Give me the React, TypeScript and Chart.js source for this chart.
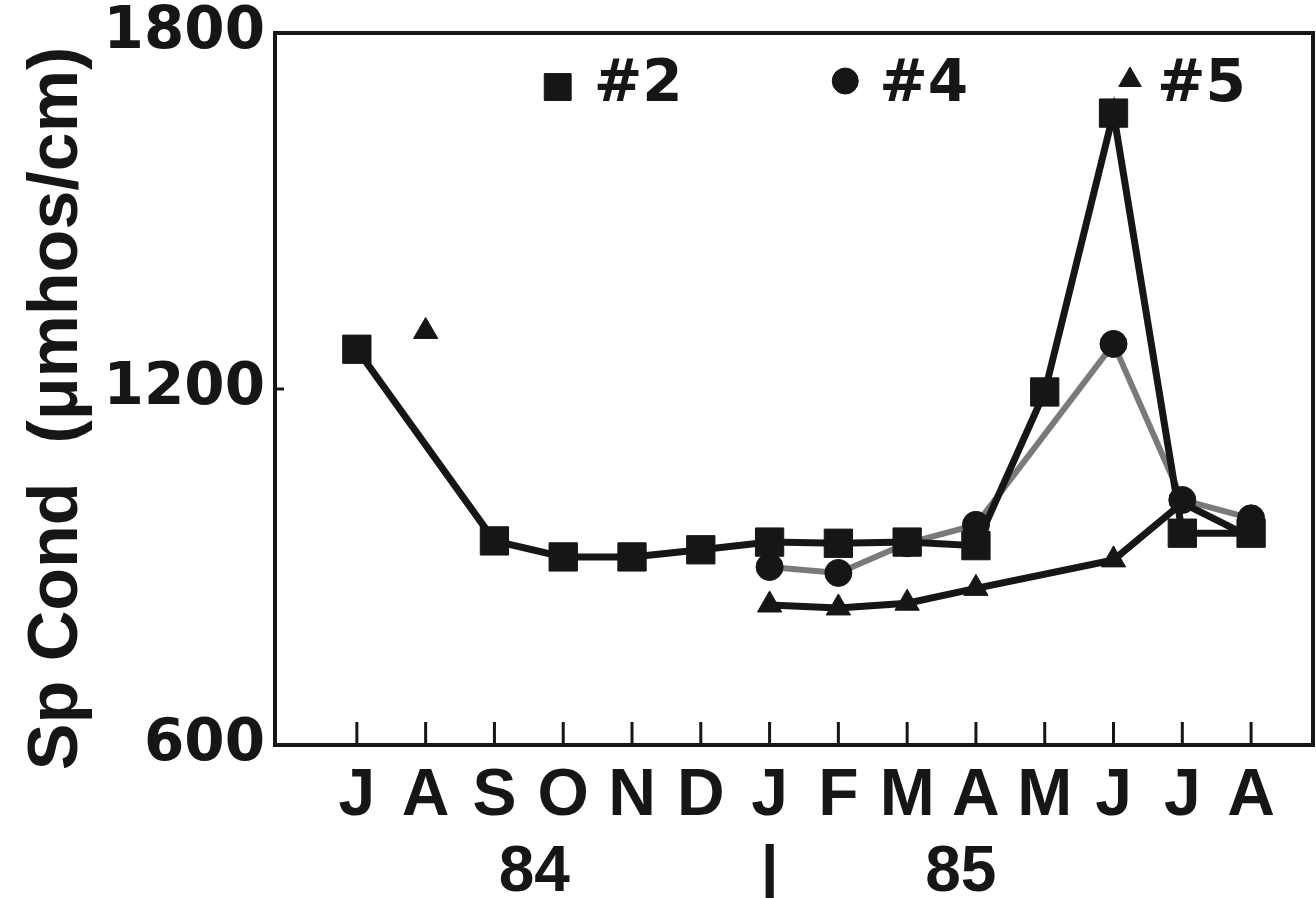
import React, { useEffect, useRef } from 'react';
import { Chart, registerables } from 'chart.js';
import { drawPoint } from 'chart.js/helpers';

Chart.register(...registerables);

// ---- data ----
const months = ['J', 'A', 'S', 'O', 'N', 'D', 'J', 'F', 'M', 'A', 'M', 'J', 'J', 'A'];
const yearLabels = ['84', '|', '85'];
const yTickValues = [600, 1200, 1800];
const seriesNames = ['#2', '#4', '#5'];
const site2 = [1267, null, 944, 917, 917, 929, 942, 940, 942, 936, 1195, 1665, 957, 957];
const site4 = [null, null, null, null, null, null, 900, 890, 940, 971, null, 1276, 1013, 982];
const site5 = [null, 1297, null, null, null, null, 836, 831, 839, 864, null, 912, 1008, 950];
const yTitle = 'Sp Cond  (\u03bcmhos/cm)  ';

// ---- layout / style (not data) ----
const yearLabelAt = [2.58, 6, 8.78];
const legendAt = [2.92, 7.1, 11.24];
const legendTextGap = [36, 34, 27];
const legendY = 1714;
const INK = '#161616';
const narrow = '"Liberation Sans Narrow", "Liberation Sans", Arial, sans-serif';
const wide = '"DejaVu Sans", Verdana, sans-serif';

const toPoints = (arr: (number | null)[]) =>
  arr
    .map((v, i) => (v == null ? null : { x: i, y: v }))
    .filter((p) => p !== null) as { x: number; y: number }[];

const framePlugin = {
  id: 'frameAndTicks',
  afterDatasetsDraw(chart: any) {
    const { ctx, chartArea } = chart;
    const xs = chart.scales.x;
    const ys = chart.scales.y;
    ctx.save();
    ctx.strokeStyle = INK;
    ctx.lineCap = 'butt';
    ctx.lineWidth = 3;
    months.forEach((_, i) => {
      const px = xs.getPixelForValue(i);
      ctx.beginPath();
      ctx.moveTo(px, chartArea.bottom);
      ctx.lineTo(px, chartArea.bottom - 23);
      ctx.stroke();
    });
    const py = ys.getPixelForValue(yTickValues[1]);
    ctx.beginPath();
    ctx.moveTo(chartArea.left, py);
    ctx.lineTo(chartArea.left + 9, py);
    ctx.stroke();
    ctx.lineWidth = 4;
    ctx.strokeRect(chartArea.left, chartArea.top, chartArea.right - chartArea.left, chartArea.bottom - chartArea.top);
    ctx.restore();
  },
  afterDraw(chart: any) {
    const { ctx } = chart;
    const xs = chart.scales.x;
    const ys = chart.scales.y;
    ctx.save();
    ctx.fillStyle = INK;
    ctx.font = `bold 64px ${narrow}`;
    ctx.textAlign = 'center';
    ctx.textBaseline = 'middle';
    yearLabels.forEach((t, i) => {
      ctx.fillText(t, xs.getPixelForValue(yearLabelAt[i]), xs.top + 128);
    });
    const ly = ys.getPixelForValue(legendY);
    chart.data.datasets.forEach((ds: any, i: number) => {
      const px = xs.getPixelForValue(legendAt[i]);
      ctx.fillStyle = INK;
      ctx.strokeStyle = INK;
      ctx.lineWidth = 1;
      drawPoint(ctx, { pointStyle: ds.pointStyle, radius: ds.legendRadius, rotation: 0, borderWidth: 1 } as any, px, ly + ds.legendDy);
      ctx.fillStyle = INK;
      ctx.font = `bold 58px ${wide}`;
      ctx.textAlign = 'left';
      ctx.textBaseline = 'middle';
      ctx.fillText(ds.label, px + legendTextGap[i], ly + 2);
    });
    ctx.restore();
  },
};

export default function App() {
  const ref = useRef<HTMLCanvasElement | null>(null);
  useEffect(() => {
    if (!ref.current) return;
    const mk = (label: string, arr: (number | null)[], style: string, radius: number, line: string, width: number, order: number, spanGaps: any, legendRadius: number, legendDy: number) => ({
      label,
      data: toPoints(arr),
      borderColor: line,
      borderWidth: width,
      pointStyle: style,
      pointRadius: radius,
      pointBackgroundColor: INK,
      pointBorderColor: INK,
      pointBorderWidth: 1,
      tension: 0,
      spanGaps,
      order,
      legendRadius,
      legendDy,
    });
    const chart = new Chart(ref.current, {
      type: 'line',
      data: {
        datasets: [
          mk(seriesNames[0], site2, 'rect', 20, INK, 7, 1, true, 19, 3),
          mk(seriesNames[1], site4, 'circle', 13.5, '#7a7a7a', 6, 3, true, 13, -3),
          mk(seriesNames[2], site5, 'triangle', 14, INK, 7, 2, 2, 13, -4),
        ] as any,
      },
      plugins: [framePlugin],
      options: {
        animation: false,
        responsive: false,
        devicePixelRatio: 1,
        events: [],
        layout: { autoPadding: false, padding: { top: 33, right: 3, left: 0, bottom: 0 } },
        plugins: { legend: { display: false }, tooltip: { enabled: false } },
        scales: {
          x: {
            type: 'linear',
            min: -1.19,
            max: 13.9,
            afterBuildTicks: (s: any) => {
              s.ticks = months.map((_, i) => ({ value: i }));
            },
            afterFit: (s: any) => {
              s.height = 153;
              s.paddingLeft = 0;
              s.paddingRight = 0;
            },
            grid: { display: false, drawTicks: false },
            border: { display: false },
            ticks: {
              autoSkip: false,
              maxRotation: 0,
              padding: 12,
              color: INK,
              font: { family: narrow, size: 66, weight: 'bold' },
              callback: (v: any) => months[v as number] ?? '',
            },
          },
          y: {
            type: 'linear',
            min: 600,
            max: 1800,
            afterBuildTicks: (s: any) => {
              s.ticks = yTickValues.map((v) => ({ value: v }));
            },
            afterFit: (s: any) => {
              s.width = 275;
              s.paddingTop = 0;
              s.paddingBottom = 0;
            },
            grid: { display: false, drawTicks: false },
            border: { display: false },
            ticks: {
              padding: 10,
              color: INK,
              font: { family: wide, size: 58, weight: 'bold' },
              callback: (v: any) => String(v),
            },
            title: {
              display: true,
              text: yTitle,
              color: INK,
              font: { family: '"Liberation Sans", Arial, sans-serif', size: 70, weight: 'bold' },
              padding: { top: 16, bottom: 0 },
            },
          },
        },
      } as any,
    });
    return () => chart.destroy();
  }, []);
  return (
    <div style={{ position: 'absolute', left: 0, top: 0, width: 1316, height: 898, background: '#fff' }}>
      <canvas ref={ref} width={1316} height={898} style={{ display: 'block' }} />
    </div>
  );
}
